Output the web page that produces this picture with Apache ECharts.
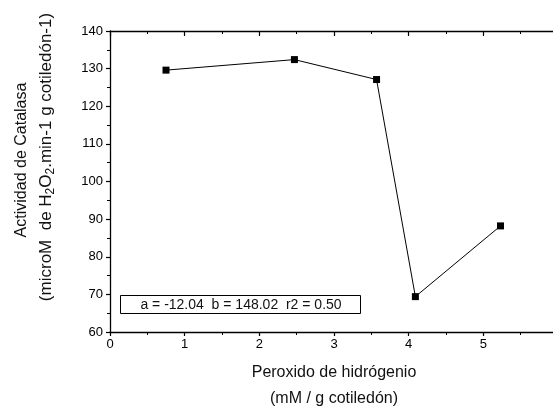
<!DOCTYPE html>
<html>
<head>
<meta charset="utf-8">
<script src="https://cdn.jsdelivr.net/npm/echarts@6/dist/echarts.min.js"></script>
<style>
  html, body { margin: 0; padding: 0; background: #fff; }
  #chart { width: 553px; height: 408px; }
</style>
</head>
<body>
<div id="chart"></div>
<script>
// Hydrogen peroxide dose (mM / g cotyledon) vs. catalase activity
const peroxide = [0.75, 2.47, 3.57, 4.09, 5.23];
const catalase = [129.6, 132.4, 127.1, 69.4, 88.2];
const xTicks = { min: 0, max: 6, step: 1 };
const yTicks = { min: 60, max: 140, step: 10 };
const fitText = 'a = -12.04  b = 148.02  r2 = 0.50';

const FONT = '"Liberation Sans", Arial, sans-serif';
const INK = '#000';

const chart = echarts.init(document.getElementById('chart'), null, { renderer: 'canvas' });

function xAxisDef(pos, inside, labels) {
  return {
    type: 'value', position: pos,
    min: xTicks.min, max: xTicks.max, interval: xTicks.step,
    axisLine: { show: true, onZero: false, lineStyle: { color: INK, width: 1.3 } },
    axisTick: { show: true, inside: inside, length: inside ? 5 : 4, lineStyle: { color: INK, width: 1.2 } },
    minorTick: { show: true, splitNumber: 2, length: 3, lineStyle: { color: INK, width: 1 } },
    axisLabel: {
      show: labels, color: INK, fontFamily: FONT, fontSize: 13, margin: 6,
      formatter: v => (v >= xTicks.max ? '' : String(v))
    },
    splitLine: { show: false }
  };
}

function yAxisDef(pos, inside, labels) {
  return {
    type: 'value', position: pos,
    min: yTicks.min, max: yTicks.max, interval: yTicks.step,
    axisLine: { show: true, onZero: false, lineStyle: { color: INK, width: 1.3 } },
    axisTick: { show: true, inside: inside, length: inside ? 5 : 4, lineStyle: { color: INK, width: 1.2 } },
    minorTick: { show: true, splitNumber: 2, length: 3, lineStyle: { color: INK, width: 1 } },
    axisLabel: { show: labels, color: INK, fontFamily: FONT, fontSize: 13, margin: 7 },
    splitLine: { show: false }
  };
}

const bottomX = xAxisDef('bottom', false, true);
bottomX.name = 'Peroxido de hidrógenio\n(mM / g cotiledón)';
bottomX.nameLocation = 'middle';
bottomX.nameGap = 28;
bottomX.nameTextStyle = { color: '#111', fontFamily: FONT, fontSize: 16, lineHeight: 26 };

const option = {
  backgroundColor: '#fff',
  animation: false,
  grid: { left: 110, top: 31, right: -5, bottom: 76, containLabel: false, outerBoundsMode: 'none' },
  xAxis: [bottomX, xAxisDef('top', true, false)],
  yAxis: [yAxisDef('left', false, true), yAxisDef('right', true, false)],
  series: [{
    type: 'line',
    xAxisIndex: 0, yAxisIndex: 0,
    data: peroxide.map((x, i) => [x, catalase[i]]),
    symbol: 'rect', symbolSize: 7,
    itemStyle: { color: INK },
    lineStyle: { color: INK, width: 1 },
    showSymbol: true
  }],
  graphic: [
    {
      type: 'text', x: 22, y: 160, rotation: Math.PI / 2,
      style: {
        text: 'Actividad de Catalasa',
        fill: '#111', font: '16px ' + FONT,
        textAlign: 'center', textVerticalAlign: 'middle'
      }
    },
    {
      type: 'text', x: 46, y: 157, rotation: Math.PI / 2,
      style: {
        text: '(microM  de H{s|2}O{s|2}.min-1 g cotiledón-1)',
        fill: '#111', fontFamily: FONT, fontSize: 17,
        textAlign: 'center', textVerticalAlign: 'middle',
        rich: {
          s: { fontFamily: FONT, fontSize: 12, fill: '#111', padding: [10, 0, 0, 0] }
        }
      }
    },
    {
      type: 'rect', shape: { x: 120.5, y: 295.5, width: 240, height: 18 },
      style: { fill: '#fff', stroke: INK, lineWidth: 1 }
    },
    {
      type: 'text', x: 241, y: 305,
      style: {
        text: fitText, fill: '#111', font: '14px ' + FONT,
        textAlign: 'center', textVerticalAlign: 'middle'
      }
    }
  ]
};

chart.setOption(option);
</script>
</body>
</html>
